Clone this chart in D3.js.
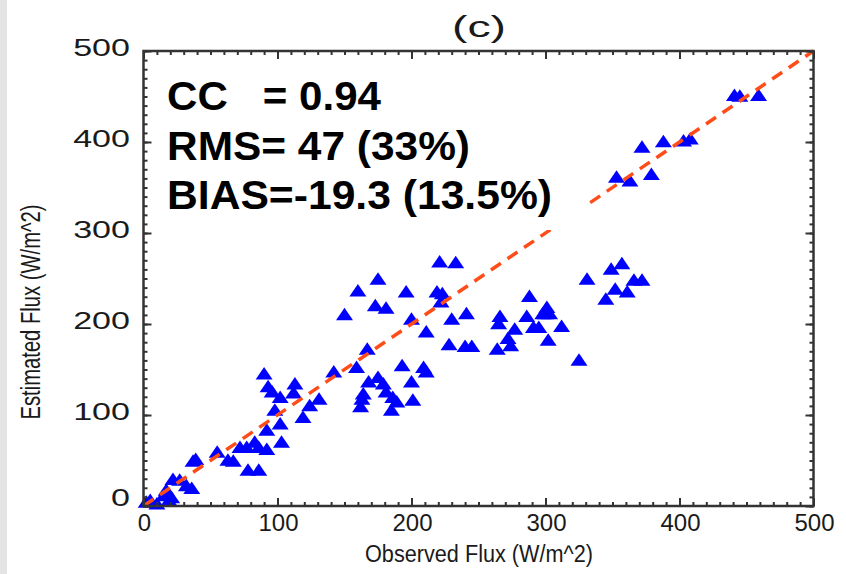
<!DOCTYPE html>
<html><head><meta charset="utf-8">
<script src="https://cdn.jsdelivr.net/npm/d3@7"></script>
<style>
html,body{margin:0;padding:0;background:#fff;}
svg{display:block;font-family:"Liberation Sans",Arial,Helvetica,sans-serif;}
</style></head>
<body><svg id="c" width="846" height="574"></svg>
<script>
const obsFlux = [2,5,10,15,17,19,21,22,27,32,36,37,39,55,63,67,72,77,83,86,92,78,86,92,98,102,103,90,93,96,102,113,112,119,124,131,142,150,160,175,173,181,196,200,167,159,193,168,175,179,164,163,162,181,186,189,185,200,201,
 221,233,219,223,222,211,230,241,228,240,245,209,211,266,265,264,274,272,277,288,286,291,295,301,300,303,298,302,312,325,331,349,357,366,372,352,361,345,
 441,445,459,372,388,403,408,353,363,379];
const estFlux = [5,7,3,12,18,7,10,30,29,23,20,50,52,60,51,50,65,65,71,65,63,40,40,84,106,91,71,146,132,126,120,135,125,98,111,118,148,211,237,250,221,218,236,206,173,153,155,137,142,135,124,118,110,126,120,115,106,137,117,
 269,268,236,234,225,192,206,212,178,176,176,153,148,209,201,173,177,185,195,231,209,197,197,219,212,212,212,183,198,161,250,261,267,249,249,239,236,228,
 452,451,452,395,401,402,404,362,358,365];
const xTicks = [0,100,200,300,400,500];
const yTicks = [0,100,200,300,400,500];
const statLines = ["CC   = 0.94","RMS= 47 (33%)","BIAS=-19.3 (13.5%)"];
const statWidths = [214,303,385];
const titleText = "(c)";
const xTitle = "Observed Flux (W/m^2)";
const yTitle = "Estimated Flux (W/m^2)";

const svg = d3.select("#c");
const x = d3.scaleLinear().domain([0,500]).range([143.5,813.5]);
const y = d3.scaleLinear().domain([0,500]).range([506,51]);
const minor = d3.range(0,501,10);

// light strip at left edge
svg.append("rect").attr("x",0).attr("y",0).attr("width",7).attr("height",574).attr("fill","#e4e4e4");

// points
const tri = "M0,-7L8.5,5.5L-8.5,5.5Z";
svg.append("g").selectAll("path").data(obsFlux.map((v,i)=>[v,estFlux[i]])).join("path")
  .attr("d",tri)
  .attr("transform",d=>`translate(${x(d[0])},${y(d[1])+0.75})`)
  .attr("fill","#0000ff");

// 1:1 dashed line (on top of points)
svg.append("line")
  .attr("x1",x(0)).attr("y1",y(0)).attr("x2",x(500)).attr("y2",y(500))
  .attr("stroke","#ff4d1a").attr("stroke-width",3.5).attr("stroke-dasharray","12,8");

// white box behind stats
svg.append("rect").attr("x",160).attr("y",62).attr("width",428).attr("height",168).attr("fill","#fff");

// axes with inward ticks
function styleAx(g){ g.select(".domain").remove(); g.selectAll("line").attr("stroke","#333").attr("stroke-width",2); g.selectAll("text").remove(); }
svg.append("g").attr("transform",`translate(0,${y(0)})`).call(d3.axisBottom(x).tickValues(minor).tickSize(-4)).call(styleAx);
svg.append("g").attr("transform",`translate(0,${y(0)})`).call(d3.axisBottom(x).tickValues(xTicks).tickSize(-8)).call(styleAx);
svg.append("g").attr("transform",`translate(0,${y(500)})`).call(d3.axisTop(x).tickValues(minor).tickSize(-4)).call(styleAx);
svg.append("g").attr("transform",`translate(0,${y(500)})`).call(d3.axisTop(x).tickValues(xTicks).tickSize(-8)).call(styleAx);
svg.append("g").attr("transform",`translate(${x(0)},0)`).call(d3.axisLeft(y).tickValues(minor).tickSize(-4)).call(styleAx);
svg.append("g").attr("transform",`translate(${x(0)},0)`).call(d3.axisLeft(y).tickValues(yTicks).tickSize(-8)).call(styleAx);
svg.append("g").attr("transform",`translate(${x(500)},0)`).call(d3.axisRight(y).tickValues(minor).tickSize(-4)).call(styleAx);
svg.append("g").attr("transform",`translate(${x(500)},0)`).call(d3.axisRight(y).tickValues(yTicks).tickSize(-8)).call(styleAx);

// frame
svg.append("rect").attr("x",x(0)).attr("y",y(500)).attr("width",x(500)-x(0)).attr("height",y(0)-y(500))
  .attr("fill","none").attr("stroke","#333").attr("stroke-width",2.5);

// x tick labels
svg.append("g").selectAll("text").data(xTicks).join("text")
  .attr("x",d=>x(d)+1).attr("y",531).attr("text-anchor","middle")
  .attr("font-size",24).attr("fill","#1a1a1a").text(d=>d);

// y tick labels (horizontally stretched)
svg.append("g").selectAll("text").data(yTicks).join("text")
  .attr("transform",d=>`translate(130,${y(d)+7-(d===0?7:2)}) scale(1.42,1)`)
  .attr("text-anchor","end").attr("font-size",24).attr("fill","#1a1a1a").text(d=>d);

// axis titles
svg.append("text").attr("x",479).attr("y",562).attr("text-anchor","middle")
  .attr("font-size",23).attr("textLength",228).attr("lengthAdjust","spacingAndGlyphs")
  .attr("fill","#1a1a1a").text(xTitle);
svg.append("text").attr("transform","translate(40,312) rotate(-90)").attr("text-anchor","middle")
  .attr("font-size",27).attr("textLength",215).attr("lengthAdjust","spacingAndGlyphs")
  .attr("fill","#1a1a1a").text(yTitle);

// title
svg.append("text").attr("x",479).attr("y",37).attr("text-anchor","middle")
  .attr("font-size",30).attr("textLength",54).attr("lengthAdjust","spacingAndGlyphs")
  .attr("fill","#1a1a1a").text(titleText);

// stats
svg.append("g").selectAll("text").data(statLines).join("text")
  .attr("x",167).attr("y",(d,i)=>110+i*49.5)
  .attr("font-size",41).attr("font-weight","bold").attr("fill","#000")
  .attr("textLength",(d,i)=>statWidths[i]).attr("lengthAdjust","spacingAndGlyphs")
  .style("white-space","pre").attr("xml:space","preserve").text(d=>d);
</script></body></html>
